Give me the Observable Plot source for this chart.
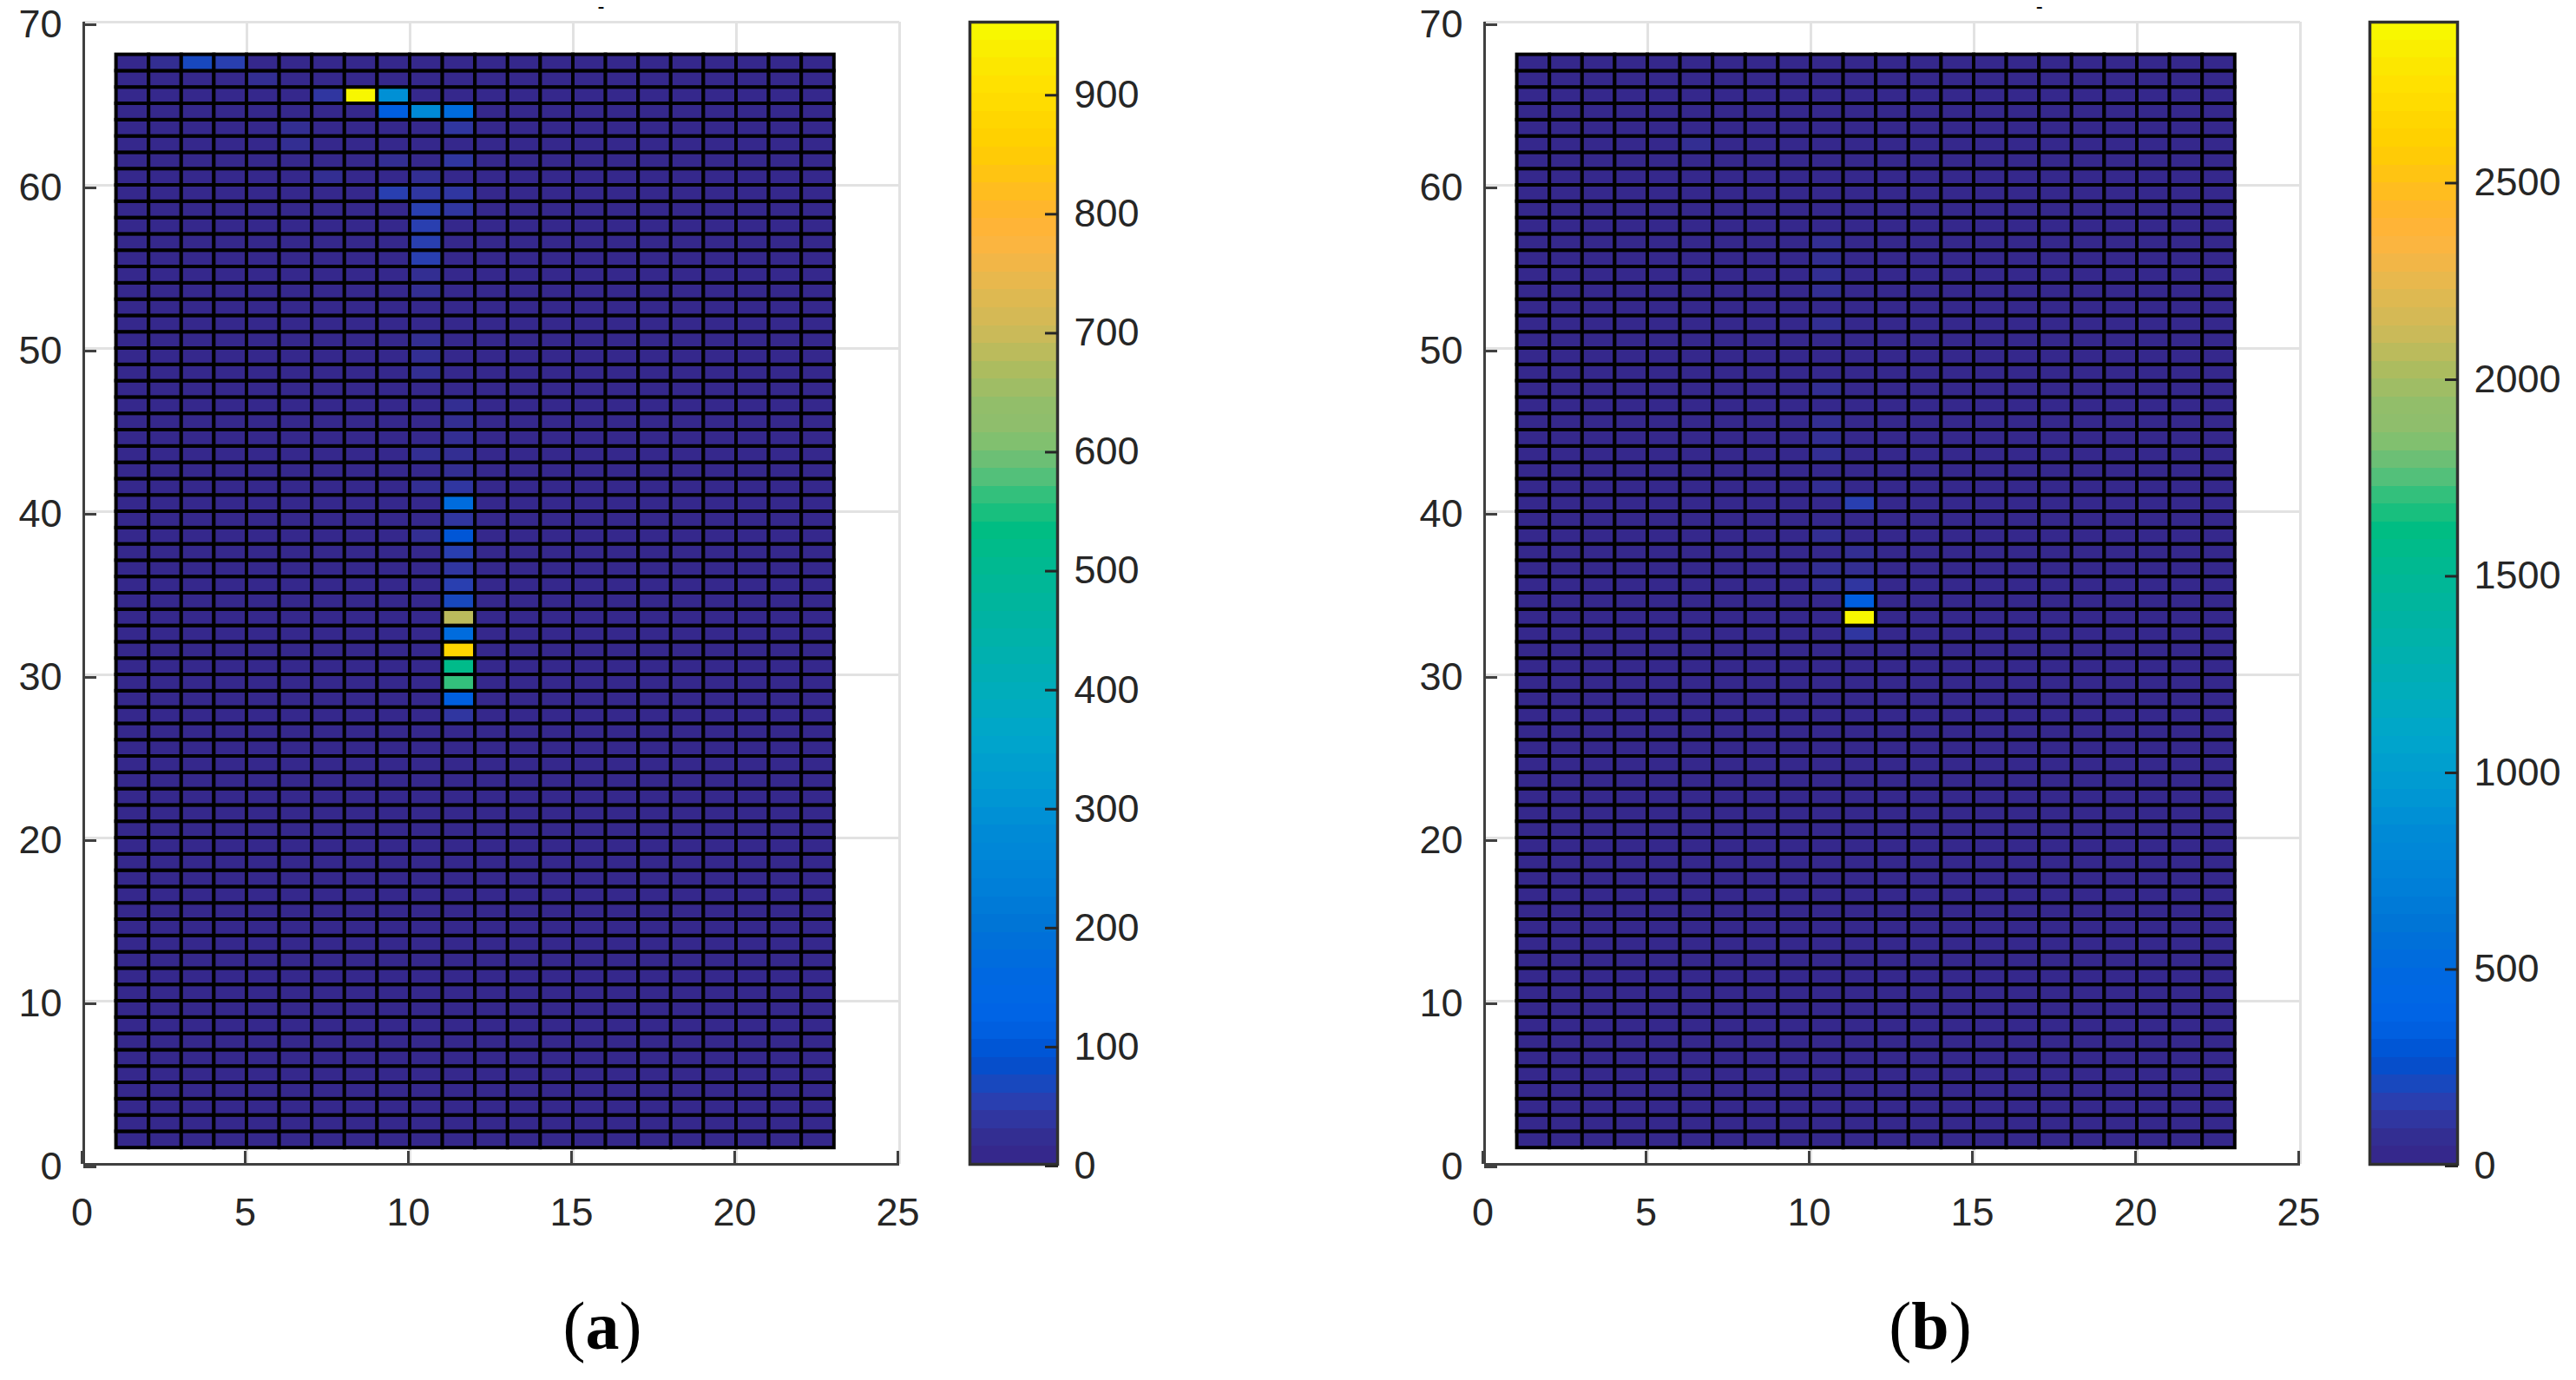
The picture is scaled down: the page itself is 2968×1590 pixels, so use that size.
<!DOCTYPE html>
<html>
<head>
<meta charset="utf-8">
<script src="https://cdn.jsdelivr.net/npm/d3@7"></script>
<script src="https://cdn.jsdelivr.net/npm/@observablehq/plot@0.6"></script>
<style>
  html, body { margin: 0; padding: 0; background: #fff; }
  #page { position: relative; width: 2968px; height: 1590px; overflow: hidden; background: #fff; }
  #page svg { position: absolute; top: 0; overflow: visible; background: transparent; }
  .cap { position: absolute; top: 1478px; transform: translateX(-50%); font-family: "Liberation Serif", serif; font-size: 78px; line-height: 100px; color: #000; white-space: pre; }
  .cap b { font-weight: 700; }
</style>
</head>
<body>
<div id="page"></div>
<script>
// ---- axes
const xTicks = [0, 5, 10, 15, 20, 25];
const yTicks = [0, 10, 20, 30, 40, 50, 60, 70];
const columns = d3.range(1, 23);   // x = 1..22, each cell spans x..x+1
const rows = d3.range(1, 68);      // y = 1..67, each cell spans y..y+1

// ---- panel (a)
const maxA = 960;
const baseA = 5;
const barTicksA = [0, 100, 200, 300, 400, 500, 600, 700, 800, 900];
const dashXA = 15.85;
const hotA = [
  [2,67,25],[3,67,70],[4,67,50],[5,66,25],
  [7,65,40],[8,65,960],[9,65,290],
  [9,64,105],[10,64,280],[11,64,165],
  [6,63,25],[11,63,35],[6,62,28],[9,61,28],[11,61,35],
  [7,60,25],[10,60,28],[9,59,45],[10,59,35],[11,59,38],
  [10,58,48],[11,58,40],[10,57,48],[10,56,48],[10,55,48],
  [10,54,28],[10,53,28],[10,50,28],[10,49,28],[10,48,28],
  [11,46,25],[11,45,25],[11,44,25],[10,43,20],[11,43,25],[11,42,25],
  [10,41,28],[11,41,38],[11,40,165],[11,39,40],[10,38,28],[11,38,95],
  [11,37,45],[11,36,40],[11,35,48],[11,34,60],[11,33,680],[11,32,165],
  [11,31,870],[11,30,510],[11,29,565],[11,28,110],[11,27,40]
];

// ---- panel (b)
const maxB = 2905;
const baseB = 20;
const barTicksB = [0, 500, 1000, 1500, 2000, 2500];
const dashXB = 17;
const hotB = [
  [6,62,75],[10,56,75],[10,55,85],[10,54,75],[10,53,85],[10,51,75],
  [10,47,75],[10,45,85],[10,44,85],[10,43,85],
  [10,41,70],[11,40,180],[10,38,75],[11,37,70],[10,36,90],[11,36,90],
  [10,35,90],[11,35,100],[11,34,330],[11,33,2905],[11,32,95]
];

const mapStops = [0, 15, 30, 45, 60, 75, 90, 105, 120, 135, 160, 200, 242, 284, 300, 360, 400, 446, 500, 540, 556, 566, 577, 591, 606, 617, 635, 665, 700, 738, 778, 800, 854, 905, 948, 960].map(v => v / 960);
const mapColors = ["#36258a", "#342a8d", "#313296", "#2e3aa9", "#2344b6", "#0c4bc6", "#0050d0", "#005bdc", "#0062e4", "#0066e6", "#0068e0", "#0074d6", "#0082d8", "#008cd6", "#0094d4", "#00a6cb", "#00adba", "#00b2a8", "#00b992", "#00be80", "#33c07c", "#33c07c", "#52c07a", "#6abf75", "#7fc070", "#8ebe6c", "#90be6b", "#a9bc60", "#cdba58", "#e5b84f", "#ffb43e", "#ffb52e", "#ffce00", "#ffe000", "#f8f200", "#f8ff00"];
const levels = 64;
const lookup = d3.scaleLinear().domain(mapStops).range(mapColors).interpolate(d3.interpolateRgb);
const levelColors = d3.range(levels).map(i => lookup((i + 0.5) / levels));

// ---- layout
const FONT = "'Liberation Sans', Arial, sans-serif";
const INK = "#262626";
const PLOT_H = 1440;
const AXIS_BOTTOM = PLOT_H - 1341;

function colorScale(max) {
  return { type: "threshold", domain: d3.range(1, levels).map(i => i * max / levels), range: levelColors };
}

function table(base, hot) {
  const special = new Map(hot.map(([x, y, v]) => [x + "," + y, v]));
  return d3.cross(columns, rows).map(([x, y]) => ({ x, y, v: special.get(x + "," + y) ?? base }));
}

function panel(left, marginLeft, max, base, hot, dashX) {
  const width = marginLeft + 940 + 60;
  const svg = Plot.plot({
    width, height: PLOT_H,
    marginLeft, marginRight: 60, marginTop: 25, marginBottom: AXIS_BOTTOM,
    x: { domain: [0, 25], axis: null },
    y: { domain: [0, 70], axis: null },
    color: colorScale(max),
    style: { fontFamily: FONT, fontSize: "45px", color: INK, background: "transparent" },
    marks: [
      Plot.gridX(xTicks, { stroke: "#e2e2e2", strokeOpacity: 1, strokeWidth: 3 }),
      Plot.gridY(yTicks, { stroke: "#e2e2e2", strokeOpacity: 1, strokeWidth: 3 }),
      Plot.rect(table(base, hot), {
        x1: "x", x2: d => d.x + 1, y1: "y", y2: d => d.y + 1,
        fill: "v", stroke: "#000", strokeWidth: 4
      }),
      Plot.ruleX([0], { stroke: "#404040", strokeWidth: 3 }),
      Plot.ruleY([0], { stroke: "#404040", strokeWidth: 3 }),
      Plot.axisX({ ticks: xTicks, label: null, anchor: "bottom", tickSize: -15, tickPadding: 54, stroke: "#404040", strokeWidth: 3, dx: -2, color: INK, fontSize: 45 }),
      Plot.axisY({ ticks: yTicks, label: null, anchor: "left", tickSize: -15, tickPadding: 40, stroke: "#404040", strokeWidth: 3, color: INK, fontSize: 45, dy: 3 }),
      Plot.text(["-"], { x: dashX, frameAnchor: "top", dy: -28, lineAnchor: "top", text: d => d, fontSize: 24, fill: "#000" })
    ]
  });
  svg.style.left = left + "px";
  return svg;
}

function colorbar(left, marginLeft, max, ticks) {
  const step = max / levels;
  const bands = d3.range(levels).map(i => ({ lo: i * step, hi: (i + 1) * step, mid: (i + 0.5) * step }));
  const svg = Plot.plot({
    width: marginLeft + 101 + 140, height: PLOT_H,
    marginLeft, marginRight: 140, marginTop: 25, marginBottom: AXIS_BOTTOM,
    x: { domain: [0, 1], axis: null },
    y: { domain: [0, max], axis: null },
    color: colorScale(max),
    style: { fontFamily: FONT, fontSize: "45px", color: INK, background: "transparent" },
    marks: [
      Plot.rect(bands, { x1: 0, x2: 1, y1: "lo", y2: "hi", fill: "mid", shapeRendering: "crispEdges" }),
      Plot.frame({ stroke: "#303030", strokeWidth: 3.5 }),
      Plot.axisY({ ticks, label: null, tickFormat: d => String(d), anchor: "right", tickSize: -15, tickPadding: 34, stroke: "#262626", strokeWidth: 3, color: INK, fontSize: 45, dy: 2 })
    ]
  });
  svg.style.left = left + "px";
  return svg;
}

function caption(cx, letter) {
  const d = document.createElement("div");
  d.className = "cap";
  d.style.left = cx + "px";
  d.innerHTML = "(<b>" + letter + "</b>)";
  return d;
}

const page = document.getElementById("page");
page.append(
  panel(0, 96, maxA, baseA, hotA, dashXA),
  colorbar(1097, 20, maxA, barTicksA),
  panel(1610, 100, maxB, baseB, hotB, dashXB),
  colorbar(2710, 20, maxB, barTicksB),
  caption(694, "a"),
  caption(2224, "b")
);
</script>
</body>
</html>
